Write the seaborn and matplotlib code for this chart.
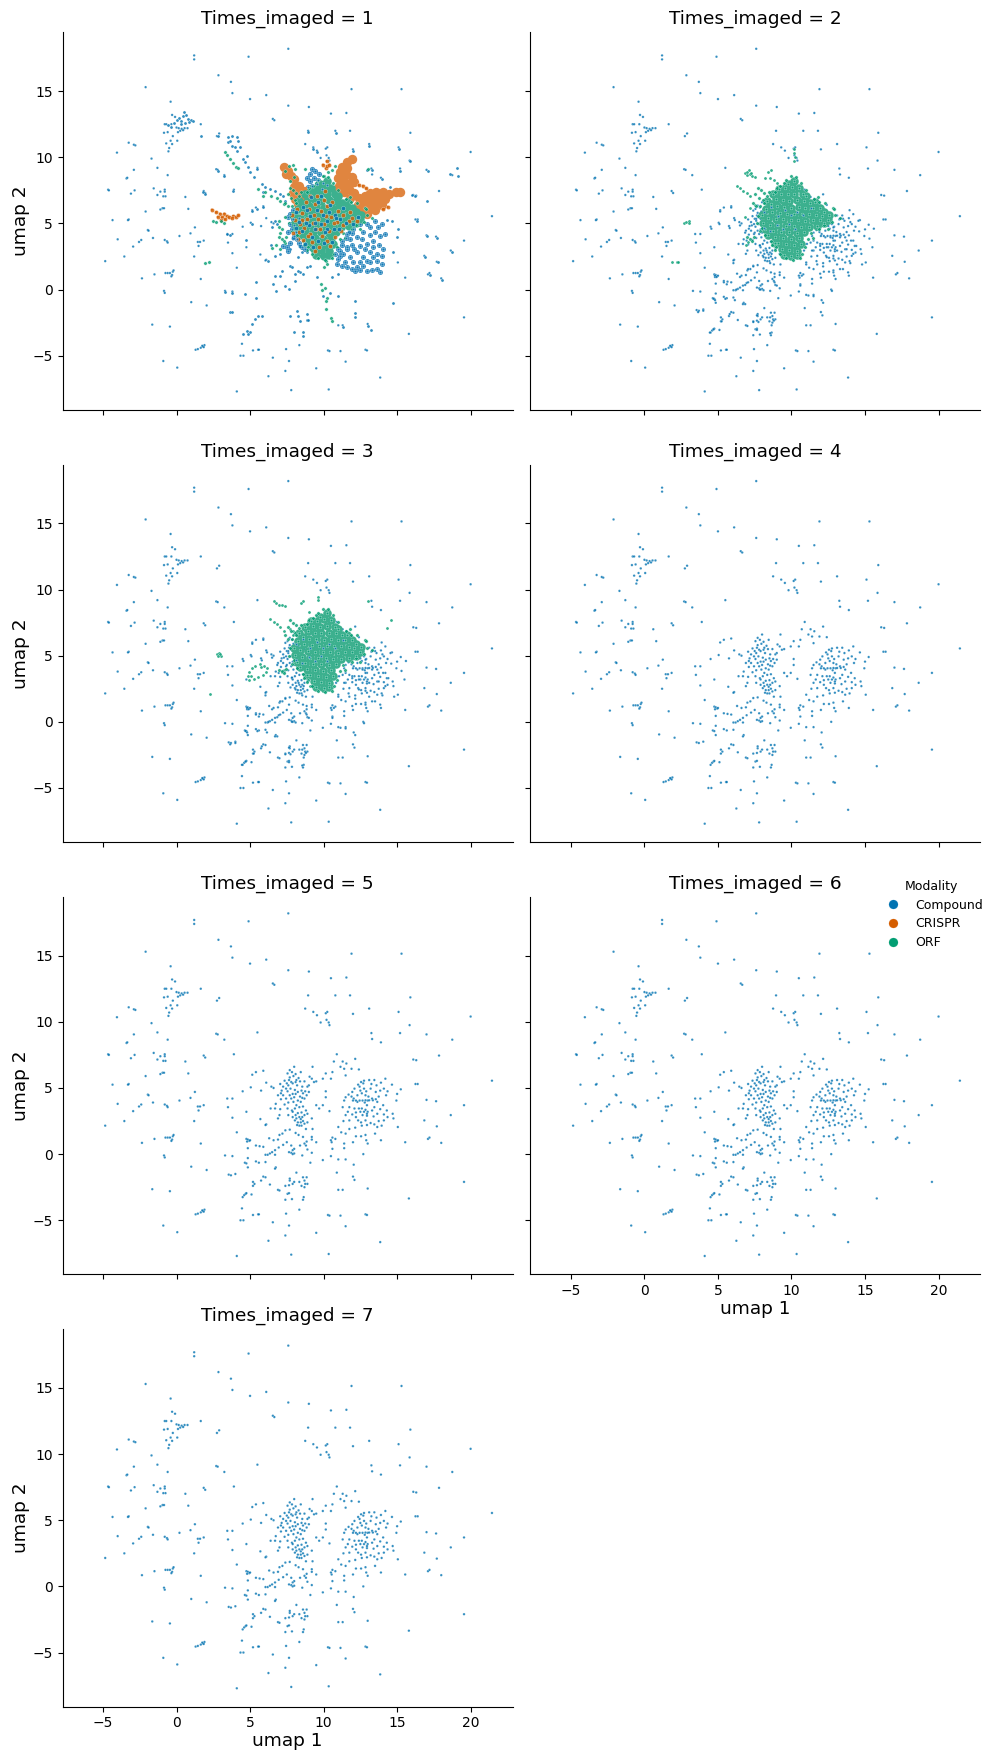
import pandas as pd
import matplotlib.pyplot as plt
import seaborn as sns

PANELS = [1, 2, 3, 4, 5, 6, 7]
MODALITIES = ["Compound", "CRISPR", "ORF"]
COLORS = {"Compound": "#0173b2", "CRISPR": "#d55e00", "ORF": "#029e73"}
# how the packed areas read once thousands of white-edged dots pile up
PACKED = {"Compound": "#3a8fc2", "CRISPR": "#e0853f", "ORF": "#3cb08e"}

COMPOUND_SPARSE = [
    (7.6, 18.2), (1.2, 17.7), (1.2, 17.4), (4.9, 17.6), (2.85, 16.2), (3.7, 15.7), (-2.1, 15.3), (3.8, 14.85),
    (6.1, 14.7), (5.0, 14.4), (11.9, 15.15), (15.3, 15.15), (-0.4, 14.2), (7.6, 13.9), (9.0, 13.8), (10.5, 13.3),
    (11.55, 13.35), (-0.3, 13.2), (-0.1, 13.05), (6.55, 12.9), (6.65, 12.8), (-0.8, 12.5), (-0.7, 12.5),
    (-0.35, 12.5), (1.65, 12.5), (0, 12.25), (0.15, 12.2), (0.35, 12.15), (0.55, 12.2), (0.75, 12.2), (0.25, 12),
    (0.45, 12.05), (0.1, 11.9), (-0.85, 11.85), (-0.6, 11.9), (8.95, 12), (10.8, 12), (11.8, 12), (15.9, 11.85),
    (2.75, 11.6), (2.9, 11.8), (-0.25, 11.6), (0.05, 11.25), (-0.4, 11.25), (-0.7, 11.05), (-0.3, 11), (-0.5, 10.7),
    (-0.55, 10.45), (-3.25, 11.1), (-2.9, 10.95), (-2.8, 10.9), (-4.05, 10.35), (8.75, 11), (9.3, 10.75),
    (9.55, 10.5), (10.25, 10.75), (10.15, 10.65), (13.1, 11), (12, 10.6), (15.1, 10.75), (20, 10.4), (10.2, 10.15),
    (9.8, 9.95), (10.35, 9.95), (10.4, 9.75), (15.85, 9.75), (-1.7, 9.9), (-1.3, 9.2), (-2.9, 9.05), (2.7, 9.1),
    (2.8, 9.05), (5.5, 9.2), (15.2, 9.15), (13.25, 9.15), (17, 9.05), (-0.6, 8.65), (3.25, 8.65), (13.3, 8.7),
    (13.9, 8.45), (18.75, 8.65), (-3.4, 8.4), (-3.35, 8.45), (-4.65, 7.55), (-4.6, 7.5), (17.85, 7.45),
    (-1.55, 7.65), (-1.1, 7.4), (-0.8, 7.55), (-0.8, 7.4), (-2.85, 7.5), (-3.1, 7.25), (-1.3, 7.15), (-0.9, 7.05),
    (-0.75, 7.05), (1.85, 7.45), (1.95, 7.3), (0.6, 7), (3.9, 7.55), (16.1, 7.15), (16.3, 7.1), (0.8, 6.1),
    (-1.1, 6.05), (-0.95, 6.15), (-0.85, 6.15), (-2.1, 5.9), (-4.35, 5.25), (-3.25, 5.3), (-3.3, 5.25),
    (21.45, 5.55), (16.25, 5.3), (16.4, 5.3), (5.15, 6), (5.4, 6.2), (5.9, 6.3), (1.25, 4.7), (-1.95, 4.5),
    (-1.9, 4.45), (0.95, 4.25), (0.2, 4.05), (4.5, 4.75), (5.05, 5.05), (5.75, 4.8), (6.1, 5.4), (6.45, 5.1),
    (6.6, 5), (-4, 3.8), (-2.4, 3.75), (-2.55, 3.6), (-2.95, 3.25), (-1.6, 3.9), (-0.8, 3.75), (-0.65, 3.65),
    (-0.6, 3.55), (1.45, 3.6), (1.6, 3.6), (1.85, 3.7), (1.5, 3.3), (3.45, 4.2), (3.8, 4.2), (3.5, 3.55),
    (4.75, 3.2), (3.8, 2.75), (5.7, 2.65), (-3.55, 2.5), (-4.85, 2.15), (1.2, 2.5), (6.1, 2.25), (6.05, 2.2),
    (4.1, 1.65), (17, 4.1), (17.65, 4), (19.55, 3.7), (18.65, 2.95), (16.85, 2.55), (17.7, 2.1), (17.1, 1.15),
    (17.2, 1.25), (18, 0.85), (15.55, 0.9), (15.05, 2.05), (-1.5, 1.15), (-2.35, 0.85), (-0.75, 1.25), (-0.6, 1.25),
    (-0.45, 1.25), (-0.3, 1.1), (-0.25, 1.35), (-0.2, 1.45), (-0.35, 1), (1.65, 0.8), (-0.85, -0.1), (-0.8, -0.25),
    (3.3, -0.1), (3.8, -0.15), (1, -0.95), (2.05, -1.2), (-1.65, -2.65), (-0.45, -2.8), (1.3, -4.55), (1.45, -4.5),
    (1.65, -4.4), (1.8, -4.3), (1.9, -4.2), (1.85, -4.35), (1.75, -4.25), (-0.9, -5.4), (0.05, -5.9), (4.1, -7.7),
    (6.25, -6.55), (7.8, -7.6), (10.35, -7.55), (13.85, -6.65), (7.4, -6.15), (9.5, -5.95), (7.65, -5.4),
    (11.5, -5.45), (6.55, -5.15), (4.45, -4.1), (4.35, -5), (4.55, -5), (5.2, -4.6), (5.55, -4.55), (5.6, -4.55),
    (7.45, -4.5), (8.35, -4.2), (10.3, -4.6), (10.4, -4.65), (11.15, -4.65), (12.85, -4.55), (12.95, -4.6),
    (15.8, -3.35), (19.55, -2.1), (13, -2.6), (11, -2.7), (11.3, -2.7),
]

COMPOUND_LOWER = [
    (4.6, -3.1), (4.7, -3), (4.75, -2.95), (4.5, -3.25), (5.1, -3.05), (5.2, -2.4), (5.3, -2.25), (5.2, -2.1),
    (3.55, -1.55), (3.7, -1.6), (4, -1.5), (5.75, -2), (5.9, -1.7), (6.05, -1.75), (6.35, -2.3), (4.65, -0.65),
    (4.75, -0.7), (4.85, -1), (5.4, -0.55), (5.6, -0.65), (6.05, -0.6), (6.75, -1), (6.7, -1.1), (4.85, -0.3),
    (4.75, 1.15), (4.85, 1.1), (4.95, 1), (5, 1.05), (4.8, 0.95), (4.85, 0.45), (5.4, 0.65), (5.65, 0.6), (5.9, 0.55),
    (6.05, -0.05), (6.2, -0.05), (6.35, 0.05), (6.5, 0.15), (6.7, 0.3), (6.95, 0.5), (6.7, -0.05), (6.3, 1.2),
    (6.6, 1.05), (6.9, 1.1), (7, 1.45), (7.2, 1.55), (7.4, 1.8), (7.7, 1.85), (8.1, 1.6), (8.3, 1.45), (7.5, 0.9),
    (7.25, 0.7), (7.8, 0.65), (8, 0.4), (7.9, 0.3), (7.8, 0.1), (8, 0.05), (7.65, 0.15), (7.9, 0), (8.55, -0.1),
    (9.2, 0.1), (9.1, -0.65), (9.95, -0.45), (10.5, -0.15), (11, -0.4), (11.5, -0.4), (8.6, 1.3), (8.85, 0.95),
    (8.8, 0.65), (8.9, 0.35), (8.7, 0.8), (9.2, 1.3), (9.2, 1.1), (8.4, 0.65), (9.5, 0.9), (8.8, 1.9), (9.25, 1.9),
    (7.4, -2.4), (7.65, -2.35), (7.7, -2), (7.9, -2.25), (8, -2.1), (8.35, -2.1), (8.5, -2.4), (8.7, -2), (8.75, -2.25),
    (8.9, -2.25), (8.6, -1.75), (8.85, -1.75), (8.15, -1.4), (7.7, -1.85), (8.7, -2.5), (6.9, -2.7), (7, -2.75),
    (7.55, -3), (7.65, -2.95), (8.65, -3.25), (8.6, -3.45), (7.85, -3.4), (7.4, -3.45), (10.5, 1.05), (10.6, 1.25),
    (10.8, 1.15), (10.6, 0.4), (10.55, 0.9), (12, 0.9), (12.2, 1.35), (12.55, 1.35), (12.85, 1.45), (13, 0.8),
    (12.9, 1.05), (13.5, 1.55), (13.9, 1.05), (11.4, 0.8), (11.4, 0.45), (12.05, -0.8), (12, -1.7), (12.1, -1.95),
    (10.9, -1.4), (12.7, 0),
]

COMPOUND_LEFT_LOBE = [
    (8, 6.6), (7.85, 6.2), (7.55, 6.1), (7.65, 5.6), (7.8, 5.45), (7.9, 5.35), (7.5, 5.35), (7.25, 5.1), (7.45, 4.95),
    (7.15, 4.8), (8.1, 5.45), (8.4, 5.5), (8.7, 5.5), (9, 5.2), (9.35, 5.45), (9.5, 5.5), (8.55, 5.1), (8.9, 5.1),
    (8.25, 4.7), (7.9, 4.55), (8, 4.3), (7.8, 4.2), (8.25, 4.05), (8.45, 3.95), (8.7, 4.2), (8.85, 4.45), (9, 4.7),
    (6.9, 4.45), (7.25, 4.45), (7.45, 4.2), (6.75, 3.8), (6.7, 3.45), (6.4, 3.45), (7, 2.95), (6.9, 2.7), (7.55, 3.45),
    (7.85, 3.3), (7.9, 3.2), (8.35, 3.55), (8.8, 3.3), (7.9, 2.8), (8.1, 2.95), (8.35, 2.8), (8.55, 2.8), (8.25, 2.4),
    (8.45, 2.4), (8.35, 2.15), (8.9, 2.4), (9.2, 2.7), (9.5, 3.7), (9.7, 3.45), (10.15, 4.3), (9.95, 3.7), (10.4, 3.25),
    (10.15, 4.75), (9.25, 6.6), (8.45, 6.2), (9.05, 5.85), (9.95, 5.7), (10.15, 6.1), (10.6, 6.2), (10.5, 5.7),
    (10.7, 7), (10.9, 7.55), (11.3, 7), (11.15, 6.6), (11.4, 6.45), (11.55, 6.85), (11.9, 6.45), (12.4, 6.4),
    (12.15, 7.2), (11.5, 5.95), (7.7, 5.8), (7.6, 5.2), (8.2, 5.2), (8.05, 4.85), (8.6, 4.6), (8.4, 4.35), (7.6, 3.9),
    (7.1, 4.15), (8.15, 3.7), (8.5, 3.15), (8.7, 2.95), (8.6, 2.5), (8.05, 2.55), (9.2, 5.7), (8.1, 6.05),
    (7.7, 6.35), (7.95, 5.9), (8.3, 5.75), (7.35, 5.55), (7.05, 5.3), (8.15, 5.6), (7.55, 4.75), (7.75, 4.95), (7.1, 4.6),
    (8.5, 4.8), (8.1, 4.55), (8.75, 4.75), (7.7, 4.45), (8.55, 4.25), (7.95, 3.95), (7.35, 3.75), (7.05, 3.4), (8.05, 3.45),
    (8.6, 3.6), (8.9, 3.05), (8.25, 3.1), (7.6, 2.95), (8.15, 2.7), (8.45, 2.65), (8.7, 2.3), (8.5, 2.15), (8.2, 2.2),
]

COMPOUND_RIGHT_LOBE = [
    (12.55, 5.45), (12.7, 5.35), (13.1, 5.6), (13.45, 5.6), (13.9, 5.4), (14.2, 5.7), (14.65, 5.25), (14.1, 4.95),
    (14.35, 4.75), (15, 4.55), (15.25, 4.9), (14.95, 4.05), (14.7, 3.05), (14.75, 2.7), (14.35, 2.8), (13.95, 2.15),
    (14.1, 2.55), (13.65, 3.05), (13.45, 3.55), (13.65, 3.95), (13.3, 4.2), (13, 4.05), (12.65, 4.05), (12.3, 3.95),
    (11.75, 3.55), (11.4, 4.05), (11.3, 3.55), (11.5, 4.3), (11.95, 4.7), (12.3, 4.45), (12.75, 4.95), (13.2, 4.95),
    (13.55, 4.7), (12.85, 4.45), (12.1, 3.45), (12.4, 3.45), (12.75, 3.2), (13, 3.2), (12.65, 2.95), (12.2, 2.8),
    (11.5, 2.95), (11.75, 2.55), (12.55, 2.4), (12.85, 2.55), (13.2, 2.35), (13.65, 2.05), (11, 2.05), (11.75, 1.9),
    (11.2, 1.65), (11.5, 1.55), (12.15, 2), (12.45, 5.1), (12.05, 4.2), (12.95, 3.7), (13.3, 3.3), (12.5, 4.8),
    (13.75, 4.35), (13.05, 4.35), (12.2, 3.15), (13.85, 3.4), (12.8, 3.9), (13.4, 2.85), (12.95, 2.9), (14.05, 3.7),
    (12, 4.05), (12.2, 4.05), (12.45, 4.05), (12.85, 4.07), (13.1, 4.07), (13.35, 4.07), (12.6, 3.45), (12.85, 3.35),
    (12.95, 3.05), (12.5, 3.2), (12.6, 4.6), (12.9, 4.75), (12.75, 5.55), (13.25, 5.3), (13.6, 5.2), (13.85, 4.8),
    (12.1, 4.95), (12.35, 5.25), (11.7, 4.5), (11.9, 4.35), (11.65, 3.2), (11.95, 3), (12.95, 2.2), (13.45, 2.25),
    (13.55, 4.15), (14.25, 4.45), (14.3, 3.3), (14.1, 3), (13.75, 2.5), (11.35, 2.5), (12.35, 2.55), (12.6, 2.15),
]

# Extra compound wells, only in panels 2 and 3
COMPOUND_EXTRA = [
    (7.4, 5.97), (7.6, 5.35), (7.3, 4.85), (7.5, 4.3), (6.95, 3.7), (6.15, 5.25), (5.8, 4.65), (5.1, 4.95), (4.55, 4.6),
    (5.15, 5.9), (5.9, 6.2), (6.5, 4.85), (6.85, 4.3), (7.85, 3.35), (8.3, 2.95), (8.65, 2.7), (8.1, 2.45), (7.75, 2.6),
    (8.55, 2), (6.05, 2), (11.5, 3.7), (11.95, 3.45), (12.4, 3.2), (12.85, 3.7), (13.3, 3.95), (13.75, 3.7), (14.2, 3.7),
    (12.85, 4.7), (13.5, 5.35), (14, 5.1), (13.3, 5.35), (12.65, 3.95), (12.4, 2.45), (12.85, 2.35), (13.1, 2.95),
    (14, 2), (11, 1.9), (11.7, 2.15), (11.95, 3.3), (11.4, 2.95), (13.75, 3.05), (14.2, 2.7), (14.55, 5.2), (13.1, 1.9),
    (12.15, 1.75), (11.95, 1.2), (12.85, 1.3), (13.3, 1.55), (13.85, 1.3), (10.7, 1.05), (10.6, 0.3), (11.15, -0.45),
    (11.5, -0.5), (12.15, -1), (12.75, -0.1), (7.05, 1.55), (7.4, 1.75), (7.65, 1.3), (6.5, 0.95), (6.25, 0), (6.85, 0.35),
    (7.05, 0.55), (7.85, 0), (8.1, -0.05), (8.85, 0.55), (9, 0.3), (8.85, 1.2), (4.8, 1.05), (4.9, 0.95), (5.4, 0.55),
    (5.6, 0.4), (4.7, -0.7), (4.8, -0.8), (5.5, -0.7), (6.15, -0.8), (6.85, -1.1), (3.65, -1.7), (4, -1.6), (5.8, -1.85),
    (5.25, -2.4), (4.7, -3), (4.45, -3.25), (7.4, -2.45), (7.75, -2.45), (8.55, -2.1), (8.8, -2.35), (8.65, -2.7),
    (7.65, -1.95), (7.65, -3.05), (8.55, -3.3), (14.6, 4.4), (13.9, 4.1), (14.4, 3.3), (15.3, 3.85), (15.6, 4.6),
    (14.8, 1.9), (13.95, 6), (15.5, 3.2), (10.85, 2.95), (11.05, 3.45),
]

# Wells only imaged once: panel 1 has its own clusters
ONCE_OUTER = [
    (3.53, 11.5), (3.75, 11.63), (4.1, 11.5), (4.2, 11.25), (3.53, 11.13), (3.75, 10.88), (3.98, 10.75), (4.1, 10.5), (3.64, 11.26),
    (4.32, 10.8), (4.55, 9.87), (4.66, 9.62), (4.89, 9.24), (5, 8.87), (4.77, 10.1), (5.45, 9.1), (5.3, 8.54), (2.85, 11.64), (1.67, 11.64),
    (2.8, 8.94), (3.23, 8.56), (3.87, 7.48), (1.83, 7.35), (1.94, 7.23), (5.8, 8), (6.02, 7.73), (5.9, 7.35), (6.36, 7.6), (6.7, 7.48),
    (7.04, 7.23), (7.27, 7.1), (7.38, 6.72), (5.11, 5.97), (5.45, 6.1), (5.9, 6.22), (5.11, 4.96), (3.41, 4.2), (3.64, 4.13), (4.73, 3.75),
    (6.48, 4.71), (6.8, 4.96), (6.7, 5.2), (7.04, 2.7), (6.7, 2.57), (6.25, 2.19), (6.4, 3.37), (7.5, 3.3), (7.72, 3.07), (7.72, 3.53),
    (8.29, 2.44), (8.86, 2.82), (9.08, 3.07), (8.52, 2.82), (7.72, 1.81), (7.84, 1.69), (8.4, 1.31), (8.29, 1.44), (8.63, 1.18), (8.86, 1.69),
    (9.08, 1.81), (8.06, 1.18), (6.7, 1), (7.04, 1.06), (7.2, 1.44), (9.54, 0.93), (10.56, 0.93), (11, 1.18), (6.59, 0.43), (8.06, 0.68),
    (7.38, 0.3), (6.77, -0.13), (7.68, 0.05), (5.39, 0.6), (3.3, -0.2), (3.8, -0.25), (4.66, -0.33), (5.41, -0.63), (9.99, -0.5), (10.44, -0.28),
    (11, -0.45), (12.14, -0.83), (14.75, -1.03), (3.64, -1.66), (3.8, -1.71), (5.57, -1.96), (5.34, -2.2), (5.11, -2.6), (5.8, -2), (4.55, -3.35),
    (4.77, -3.1), (5, -3.17), (4.89, -3.35), (7.72, -1.97), (8.18, -1.59), (8.29, -1.97), (8.4, -2.34), (8.86, -1.84), (8.86, -2.29), (8.97, -2.29),
    (8, -3.17), (8.63, -3.17), (8.63, -3.5), (12.14, -1.79), (12.14, -2.04), (11.35, -2.8), (13.05, -2.72), (13.23, -3.02), (16, 7.18), (16.23, 7.1),
    (17.02, 6.72), (16.34, 5.21), (17.06, 4.03), (17.7, 3.88), (18.72, 2.87), (16.9, 2.44), (17.8, 2.06), (17.25, 1.13), (18.04, 0.75), (17.09, 8.99),
    (18.6, 8.74), (19.06, 9.19), (19.17, 8.61), (15.89, 9.7), (15.14, 10.63), (13.12, 10.88), (12.03, 10.5), (10.85, 11.84), (8.97, 11.94),
    (9.58, 10.38), (9.31, 10.63), (12.94, 9.04), (13.32, 9.04), (13.96, 8.36), (15.2, 9), (14.52, 7.73), (14.3, 5.26), (14.64, 5.21), (15.09, 4.58),
    (14.98, 3.95), (14.75, 2.87), (-0.6, 12.45), (-0.4, 12.3), (-0.2, 12.6), (0, 12.8), (0.15, 13), (0.3, 12.75), (0.45, 13.1), (0.5, 13.45), (0.65, 13.2),
    (0.75, 12.9), (0.85, 12.7), (0.3, 12.5), (0.55, 12.6), (1, 12.85), (1.15, 12.75),
]

ONCE_LACE = [
    (10.9, 1.94), (11.24, 1.81), (11.58, 1.69), (11.92, 1.56), (12.26, 1.69), (12.71, 1.81), (13.16, 2.06), (13.62, 2.19), (13.96, 1.94), (13.84, 1.31),
    (12.94, 1.44), (12.14, 1.44), (11.01, 2.32), (11.35, 2.69), (11.8, 2.44), (12.26, 2.82), (12.71, 2.44), (13.16, 2.82), (13.62, 2.69), (14.07, 3.07),
    (13.96, 2.57), (12.48, 3.32), (12.94, 3.45), (13.39, 3.7), (13.84, 4.08), (14.18, 4.21), (13.73, 4.71), (13.16, 4.71), (12.71, 4.33), (12.26, 3.95),
    (11.8, 3.83), (11.58, 3.2), (11.12, 2.95), (12.03, 4.58), (11.58, 4.2), (11.24, 3.7), (13.96, 4.96), (13.5, 5.21), (11.45, 2.1), (12, 2.1), (12.45, 2.1),
    (12.95, 2.15), (13.35, 2.45), (12.5, 1.5), (13.3, 1.5), (13.65, 1.55), (12.05, 3.05), (12.85, 3.05), (13.35, 3.2), (13.75, 3.4), (13.15, 4.1), (12.6, 3.85),
    (13.5, 4.35), (12.95, 4.95), (12.45, 4.95), (11.9, 3.4),
]

CENTER_BLUE = [
    (9.2, 9.1), (9.45, 8.95), (9.7, 8.7), (9.1, 8.7), (9.35, 8.45), (9.65, 8.3), (9.05, 8.2), (8.85, 8.45), (9.95, 8.05), (9.55, 7.95),
    (9.2, 7.85), (8.95, 7.75), (9.9, 7.6), (10.2, 7.9), (8.3, 5.4), (7.9, 6.05), (7.75, 5.75), (7.95, 5.3), (8, 4.9), (7.85, 4.6),
    (8.15, 4.35), (8, 4.05), (8.2, 3.8), (8.35, 3.5), (8.5, 3.25), (8.75, 3.1), (7.7, 3.55), (7.5, 3.2), (7.25, 3.3), (7.55, 2.95),
    (11.9, 4.3), (11.55, 3.9), (11.25, 3.4), (10.95, 3.1), (11.6, 3.05), (10.75, 2.7), (11.15, 2.55), (7.7, 4.95), (7.6, 5.45), (7.55, 4.35),
]

# Dense ORF blob, the same shape in panels 1 to 3
ORF_CORE = [
    (10.2, 8.2), (10.05, 7.75), (10.5, 7.7), (9.55, 7.65), (9.3, 7.25), (9.75, 7.2), (10.2, 7.25), (10.75, 7.2), (11, 7.05), (8.95, 6.85),
    (9.4, 6.75), (9.85, 6.7), (10.35, 6.75), (10.85, 6.7), (11.25, 6.55), (8.6, 6.45), (9, 6.3), (9.5, 6.25), (10, 6.2), (10.5, 6.25),
    (10.95, 6.2), (11.45, 6.15), (8.25, 6.1), (8.7, 5.9), (9.2, 5.8), (9.7, 5.75), (10.2, 5.7), (10.7, 5.75), (11.2, 5.7), (11.7, 5.65),
    (12.2, 5.9), (12.55, 5.65), (8, 5.6), (8.4, 5.4), (8.95, 5.35), (9.45, 5.3), (9.95, 5.25), (10.45, 5.25), (10.95, 5.2), (11.45, 5.25),
    (11.95, 5.25), (12.45, 5.25), (8.05, 5.05), (8.55, 4.9), (9.1, 4.85), (9.6, 4.8), (10.15, 4.8), (10.65, 4.75), (11.2, 4.75), (11.75, 4.8),
    (8.2, 4.55), (8.75, 4.45), (9.3, 4.35), (9.85, 4.35), (10.35, 4.3), (10.85, 4.35), (8.9, 4), (9.4, 3.9), (9.95, 3.85), (10.5, 3.9),
    (9.1, 3.55), (9.6, 3.45), (10.15, 3.4), (10.65, 3.45), (9.35, 3.05), (9.85, 3), (10.35, 2.95), (9.5, 2.65), (10, 2.55), (10.4, 2.65),
    (9.75, 7.95), (9.15, 7.6), (8.75, 7.2), (8.35, 6.7), (11.6, 6.6), (11.95, 6.2), (12.1, 5.55), (12.2, 5), (8.4, 4.15), (8.85, 3.55),
]

ORF_FRINGE = [
    (7.7, 7.7), (7.9, 7.5), (8.1, 7.3), (8.35, 7.1), (7.55, 7.2), (7.8, 6.9), (8.05, 6.75), (8.45, 7.35), (9, 7.7), (9.25, 7.85), (9.5, 8.05),
    (8.85, 7.4), (9.65, 8.25), (9.95, 8.55), (10.3, 8.5), (10.65, 8.05), (11, 7.55), (11.5, 6.85), (11.85, 6.6), (12.25, 6.55), (12.8, 6.15),
    (12.95, 5.6), (12.75, 5.1), (12.2, 4.85), (11.9, 4.55), (11.3, 4.3), (11.1, 3.85), (10.9, 3.2), (10.7, 2.7), (10.6, 2.35), (10.1, 2.25),
    (9.6, 2.35), (9.2, 2.7), (8.95, 3.2), (8.6, 3.65), (8.2, 4.1), (7.85, 4.4), (7.65, 5), (7.7, 5.55), (6.95, 3.95), (7.15, 3.85),
    (7.3, 3.7), (7.45, 4), (12.9, 6.1), (13.3, 5.4), (7.4, 6.55), (7.6, 6.3), (7.85, 6.3), (8.15, 6.55), (8.85, 3), (8.7, 3.35),
    (8, 4.65), (11.45, 3.9), (12.5, 4.55), (11.8, 7),
]

ORF_WINGS_P2 = [
    (6.85, 8.8), (7, 8.65), (7.15, 8.7), (7.3, 8.55), (7.5, 8.5), (7.1, 9.05), (6.3, 7.8), (6.5, 7.65), (6.7, 7.45), (7, 7.3), (7.2, 7.1),
    (8.55, 8.4), (8.8, 8.25), (9, 8.05), (8.2, 8.45), (8.4, 8.9), (8.6, 9.05), (7.2, 6.2), (7.5, 6.4), (7.05, 3.6), (6.9, 3.35),
    (10.15, 10.6), (10.2, 10.3), (10.25, 10), (10.2, 9.75), (2.7, 5), (2.85, 5.1), (3, 5.2), (3.05, 5.05), (2.2, 2.05), (2.3, 2.1),
    (6.85, 5.45), (1.85, 2.1), (7, 8.85), (7.25, 8.8),
]

ORF_WINGS_P3 = [
    (6.6, 9.1), (6.75, 8.95), (6.95, 8.85), (7.15, 8.8), (7.4, 8.75), (6.35, 7.75), (6.6, 7.55), (6.85, 7.4), (7.05, 7.15), (7.3, 6.9), (7.75, 7),
    (7.95, 6.9), (8.15, 6.8), (7.9, 6.55), (8.45, 8.95), (8.6, 9.1), (9, 8.3), (9.6, 9.4), (9.6, 9.2), (2.75, 5.1), (2.9, 5.2), (3, 5), (2.3, 2.1),
    (14.3, 7.1), (14.6, 7.7), (13, 9.1), (4.85, 3.5), (4.95, 3.8), (5.1, 4.05), (5.35, 4.2), (5.65, 4.35), (5.95, 4.25), (6.15, 4.05),
    (6.1, 3.75), (5.85, 3.55), (5.55, 3.4), (5.25, 3.25), (4.95, 3.2), (5.05, 3.45), (5.75, 4.15), (7.15, 3.75), (7.3, 3.95), (9.3, 3.05),
    (9.1, 2.7), (9.45, 2.75), (9.75, 2.45), (9.95, 2.35), (10.1, 2.65), (10.3, 2.95), (10.35, 3.45), (2.85, 5), (2.95, 5.15),
]

ORF_WINGS_P1 = [
    (3.3, 10.4), (3.45, 10.15), (3.65, 9.85), (3.85, 9.55), (4.05, 9.3), (4.2, 9.2), (2.45, 5.2), (2.7, 5.1), (3, 5.15), (3.25, 5.05),
    (6.05, 7.35), (6.4, 7.1), (6.8, 6.9), (7.05, 6.7), (7.3, 6.45), (5.55, 7.6), (5.9, 7.05), (7.35, 5.45), (7, 5.15), (6.95, 4.75), (7.2, 4.55),
    (7.05, 4.25), (7.4, 3.55), (6.5, 3.15), (6.75, 3.35), (7.05, 3.05), (7.75, 8.2), (8, 8.5), (7.65, 9.35), (7.9, 9.45), (8.05, 9.15), (7.4, 9),
    (8.75, 9.1), (10.3, 8.9), (10.55, 9.05), (10.8, 9.35), (10.05, 8.55), (10.15, 2.15), (10, 1.7), (10.25, 1.95), (10.2, -0.6), (10.15, -0.9),
    (10.5, -2.15), (10.6, -2.35), (2.2, 2.1), (1.95, 2), (13, 9.1), (10.1, 0.15), (9.9, -0.05), (9.75, 2.55), (9.85, 0.42), (10.17, -1.46),
]

CRISPR_LOBES = [
    (11.6, 9.65), (11.9, 9.85), (11.25, 9.3), (11.6, 9.2), (11.15, 8.85), (11.55, 8.75), (11.95, 8.5), (10.95, 8.4), (11.35, 8.3), (11.8, 8.05), (12.1, 8.1),
    (11.05, 7.85), (11.45, 7.8), (11, 7.4), (11.4, 7.35), (14.9, 7.35), (15.2, 7.4), (14.45, 7.25), (14.05, 7.35), (13.55, 7.4), (13.15, 7.3), (12.85, 7.05),
    (13.3, 6.95), (13.75, 6.95), (14.2, 6.85), (12.4, 6.9), (12.75, 6.65), (13.15, 6.55), (13.55, 6.55), (13.95, 6.4), (12.35, 6.4), (12.75, 6.2), (13.1, 6.1),
    (13.5, 6.05), (12.15, 6), (12.5, 5.85), (12.95, 5.75), (8, 7.75), (8.35, 7.8), (7.95, 7.3), (8.35, 7.35), (8.75, 7.45), (8.05, 6.85), (8.45, 6.9),
    (8.85, 7.05), (8.25, 6.5), (8.65, 6.6), (7.3, 9.25), (7.6, 9), (7.45, 8.7), (7.8, 8.6), (8, 8.35), (11.7, 7.6), (12.05, 7.3), (11.8, 6.95),
]

CRISPR_SMALL = [
    (2.4, 6.05), (2.7, 5.85), (2.95, 5.75), (3.25, 5.75), (2.8, 5.5), (3.1, 5.45), (3.4, 5.55), (3.05, 5.25), (3.3, 5.3), (3.6, 5.45), (3.85, 5.55), (4.05, 5.5),
    (4.2, 5.6), (3.75, 5.4), (10.15, 9.2), (10.25, 9.35), (10.4, 9.45), (9.95, 9.45), (10.2, 9.7), (8.95, 3.5), (14.05, 6.1), (14.35, 6.25),
    (12.4, 7.9), (12.65, 7.85), (12.9, 7.65),
]

CRISPR_SPECKLE = [
    (8.2, 6.1), (8.55, 5.8), (9, 6.1), (9.4, 6.5), (9.8, 5.95), (10.2, 6.3), (10.6, 6.6), (11, 5.95), (11.35, 5.6), (11.8, 5.9), (8.05, 5.25),
    (8.4, 4.95), (8.85, 5.35), (9.25, 5), (9.65, 5.35), (10.05, 4.95), (10.5, 5.45), (10.9, 5.1), (11.3, 4.9), (11.7, 5.2), (8.3, 4.35), (8.7, 4.65),
    (9.1, 4.2), (9.5, 4.55), (9.9, 4.05), (10.35, 4.45), (10.75, 4), (9.2, 3.6), (9.7, 3.2), (10.2, 3.7), (8.6, 3.75), (9.45, 2.95), (7.95, 4.3),
    (8.25, 3.8), (9.05, 7.1), (9.55, 7.1), (10.1, 7.45), (8.8, 6.6), (11.95, 5.4), (12.25, 5.2), (10.45, 3.3), (11.2, 4.45), (10.05, 6.75),
    (9.35, 5.6), (10.7, 5.05), (8.55, 5.25), (7.85, 5.65), (8.95, 4.05), (10.15, 5.55), (9.75, 4.55),
]

COMPOUND_SPECKLE = [
    (8.15, 5.85), (8.6, 6.25), (9.05, 5.55), (9.55, 6.05), (9.95, 5.6), (10.35, 5.9), (10.8, 5.6), (11.3, 6.15), (8.1, 4.65), (8.55, 4.45),
    (9, 4.9), (9.4, 4.6), (9.85, 4.95), (10.25, 4.6), (10.7, 4.55), (8.35, 5.1), (9.2, 4), (9.65, 3.65), (10.05, 3.5), (10.55, 3.6), (8.75, 3.45), (9.25, 3.2),
    (11.05, 4.6), (11.55, 5), (12, 4.95), (11.75, 4.35), (12.35, 5.5), (9.6, 6.6), (9.15, 7), (10.45, 6.4), (7.95, 3.9), (8.4, 3.3), (10.85, 5.4), (11.15, 5.35),
    (9.8, 7.05), (8.9, 6), (9.45, 5.05), (10.25, 5.15), (10.1, 4.35), (8.8, 5.05),
]

ALL_COMPOUND = COMPOUND_SPARSE + COMPOUND_LOWER + COMPOUND_LEFT_LOBE + COMPOUND_RIGHT_LOBE


def make_frame(points, modality, panels):
    rows = []
    for panel in panels:
        for x, y in points:
            rows.append({"umap 1": x, "umap 2": y, "Modality": modality, "Times_imaged": panel})
    return pd.DataFrame(rows)


def packed(ax, points, modality, size):
    # flat lighter colour, so overlapping spots do not darken
    frame = make_frame(points, modality, [0])
    sns.scatterplot(data=frame, x="umap 1", y="umap 2", color=PACKED[modality], s=size, linewidth=0, legend=False, ax=ax)


def dots(ax, points, modality, size, alpha=0.8):
    frame = make_frame(points, modality, [0])
    sns.scatterplot(data=frame, x="umap 1", y="umap 2", color=COLORS[modality], s=size, alpha=alpha, linewidth=0.25,
                    edgecolor="white", legend=False, ax=ax)


df = pd.concat([
    make_frame(COMPOUND_SPARSE, "Compound", [1]),
    make_frame(ALL_COMPOUND, "Compound", PANELS[1:]),
    make_frame(COMPOUND_EXTRA, "Compound", [2, 3]),
    make_frame(CRISPR_SMALL, "CRISPR", [1]),
], ignore_index=True)

g = sns.relplot(data=df, x="umap 1", y="umap 2", hue="Modality", hue_order=MODALITIES, palette=COLORS,
                col="Times_imaged", col_wrap=2, kind="scatter", s=3.2, alpha=0.8, linewidth=0.15,
                height=4.5, aspect=1.0)

# panel 1 is built up so the three colours mix in the centre
ax1 = g.axes_dict[1]
dots(ax1, ONCE_OUTER, "Compound", 5)
packed(ax1, ONCE_LACE, "Compound", 13)
packed(ax1, CENTER_BLUE, "Compound", 14)
packed(ax1, CRISPR_LOBES, "CRISPR", 46)
dots(ax1, CRISPR_SMALL, "CRISPR", 9)
dots(ax1, ORF_WINGS_P1, "ORF", 6)
packed(ax1, ORF_CORE, "ORF", 38)
dots(ax1, ORF_FRINGE, "ORF", 6)
dots(ax1, CRISPR_SPECKLE, "CRISPR", 9)
dots(ax1, COMPOUND_SPECKLE, "Compound", 9)
dots(ax1, CENTER_BLUE + ONCE_LACE, "Compound", 4)

for panel, wings in [(2, ORF_WINGS_P2), (3, ORF_WINGS_P3)]:
    ax = g.axes_dict[panel]
    dots(ax, wings, "ORF", 5)
    packed(ax, ORF_CORE, "ORF", 38)
    dots(ax, ORF_FRINGE, "ORF", 6)
    dots(ax, ORF_CORE, "ORF", 4)
    dots(ax, COMPOUND_SPECKLE[:14], "Compound", 3)

g.set(xlim=(-7.75, 22.85), ylim=(-9.08, 19.44))
g.set(xticks=[-5, 0, 5, 10, 15, 20], yticks=[-5, 0, 5, 10, 15])
g.set_titles("Times_imaged = {col_name}", size=13.3)
g.set_axis_labels("umap 1", "umap 2", size=13.3)
for ax in g.axes.flat:
    ax.xaxis.labelpad = 1.6
    ax.yaxis.labelpad = 2

fig = g.figure
fig.set_size_inches(9.85, 17.51)
fig.subplots_adjust(left=0.0635, right=0.9954, top=0.9815, bottom=0.0254, hspace=0.1457, wspace=0.0398)

sns.move_legend(g, "center left", bbox_to_anchor=(0.882, 0.4777), frameon=False, labelspacing=0.45,
                fontsize=9, title_fontsize=9, handletextpad=0.8)
for handle in g.legend.legend_handles:
    handle.set_markersize(6.5)
    handle.set_alpha(1)

fig.savefig("out.png", dpi=100)
plt.close(fig)
